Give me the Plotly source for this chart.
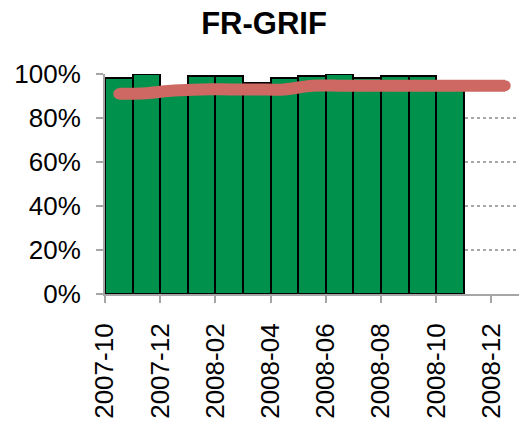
import plotly.graph_objects as go

months = ["2007-10", "2007-11", "2007-12", "2008-01", "2008-02", "2008-03", "2008-04",
          "2008-05", "2008-06", "2008-07", "2008-08", "2008-09", "2008-10", "2008-11", "2008-12"]
availability = [0.98, 1.00, 0.94, 0.99, 0.99, 0.96, 0.98, 0.99, 1.00, 0.98, 0.99, 0.99, 0.96]
trend = [0.91, 0.913, 0.925, 0.93, 0.93, 0.93, 0.93, 0.947, 0.947, 0.947, 0.947, 0.947, 0.947, 0.947, 0.947]

# month slots: tick at the left edge of each slot, marks in the middle
pos = [i + 0.5 for i in range(len(months))]
tick_pos = list(range(0, len(months), 2))
tick_txt = months[::2]

fig = go.Figure()
fig.add_trace(go.Bar(
    x=pos[:len(availability)],
    y=availability,
    width=1,
    marker=dict(color="#00914C", line=dict(color="black", width=2)),
))
fig.add_trace(go.Scatter(
    x=pos,
    y=trend,
    mode="lines+markers",
    line=dict(color="#CD6962", width=12, shape="spline"),
    marker=dict(color="#CD6962", size=11),
    cliponaxis=False,
))

axis_grey = "#A6A6A6"
fig.update_layout(
    width=520, height=422,
    margin=dict(l=105, r=1, t=74, b=128),
    paper_bgcolor="white", plot_bgcolor="white",
    showlegend=False,
    bargap=0,
    font=dict(family="Liberation Sans, Arial", size=26, color="black"),
    title=dict(text="<b>FR-GRIF</b>", x=264 / 520, xanchor="center", y=1 - 23 / 422, yanchor="middle",
               font=dict(size=31)),
)
fig.update_xaxes(
    range=[0, len(months)], automargin=False,
    tickvals=tick_pos, ticktext=tick_txt, tickangle=-90,
    showline=True, linecolor=axis_grey, linewidth=2,
    ticks="outside", tickcolor=axis_grey, ticklen=7, tickwidth=2,
    ticklabelstandoff=10,
    showgrid=False, zeroline=False,
)
fig.update_yaxes(
    range=[0, 1], tickvals=[0, 0.2, 0.4, 0.6, 0.8, 1.0], tickformat=".0%",
    automargin=False,
    showline=True, linecolor=axis_grey, linewidth=2,
    ticks="outside", tickcolor=axis_grey, ticklen=7, tickwidth=2,
    ticklabelstandoff=10,
    showgrid=True, gridcolor=axis_grey, griddash="dot", gridwidth=1.5,
    zeroline=False,
)

# drop the default body margin so the figure sits at the window corner
fig.write_html("out.html", config={"displayModeBar": False},
               post_script="document.body.style.margin = '0';")
